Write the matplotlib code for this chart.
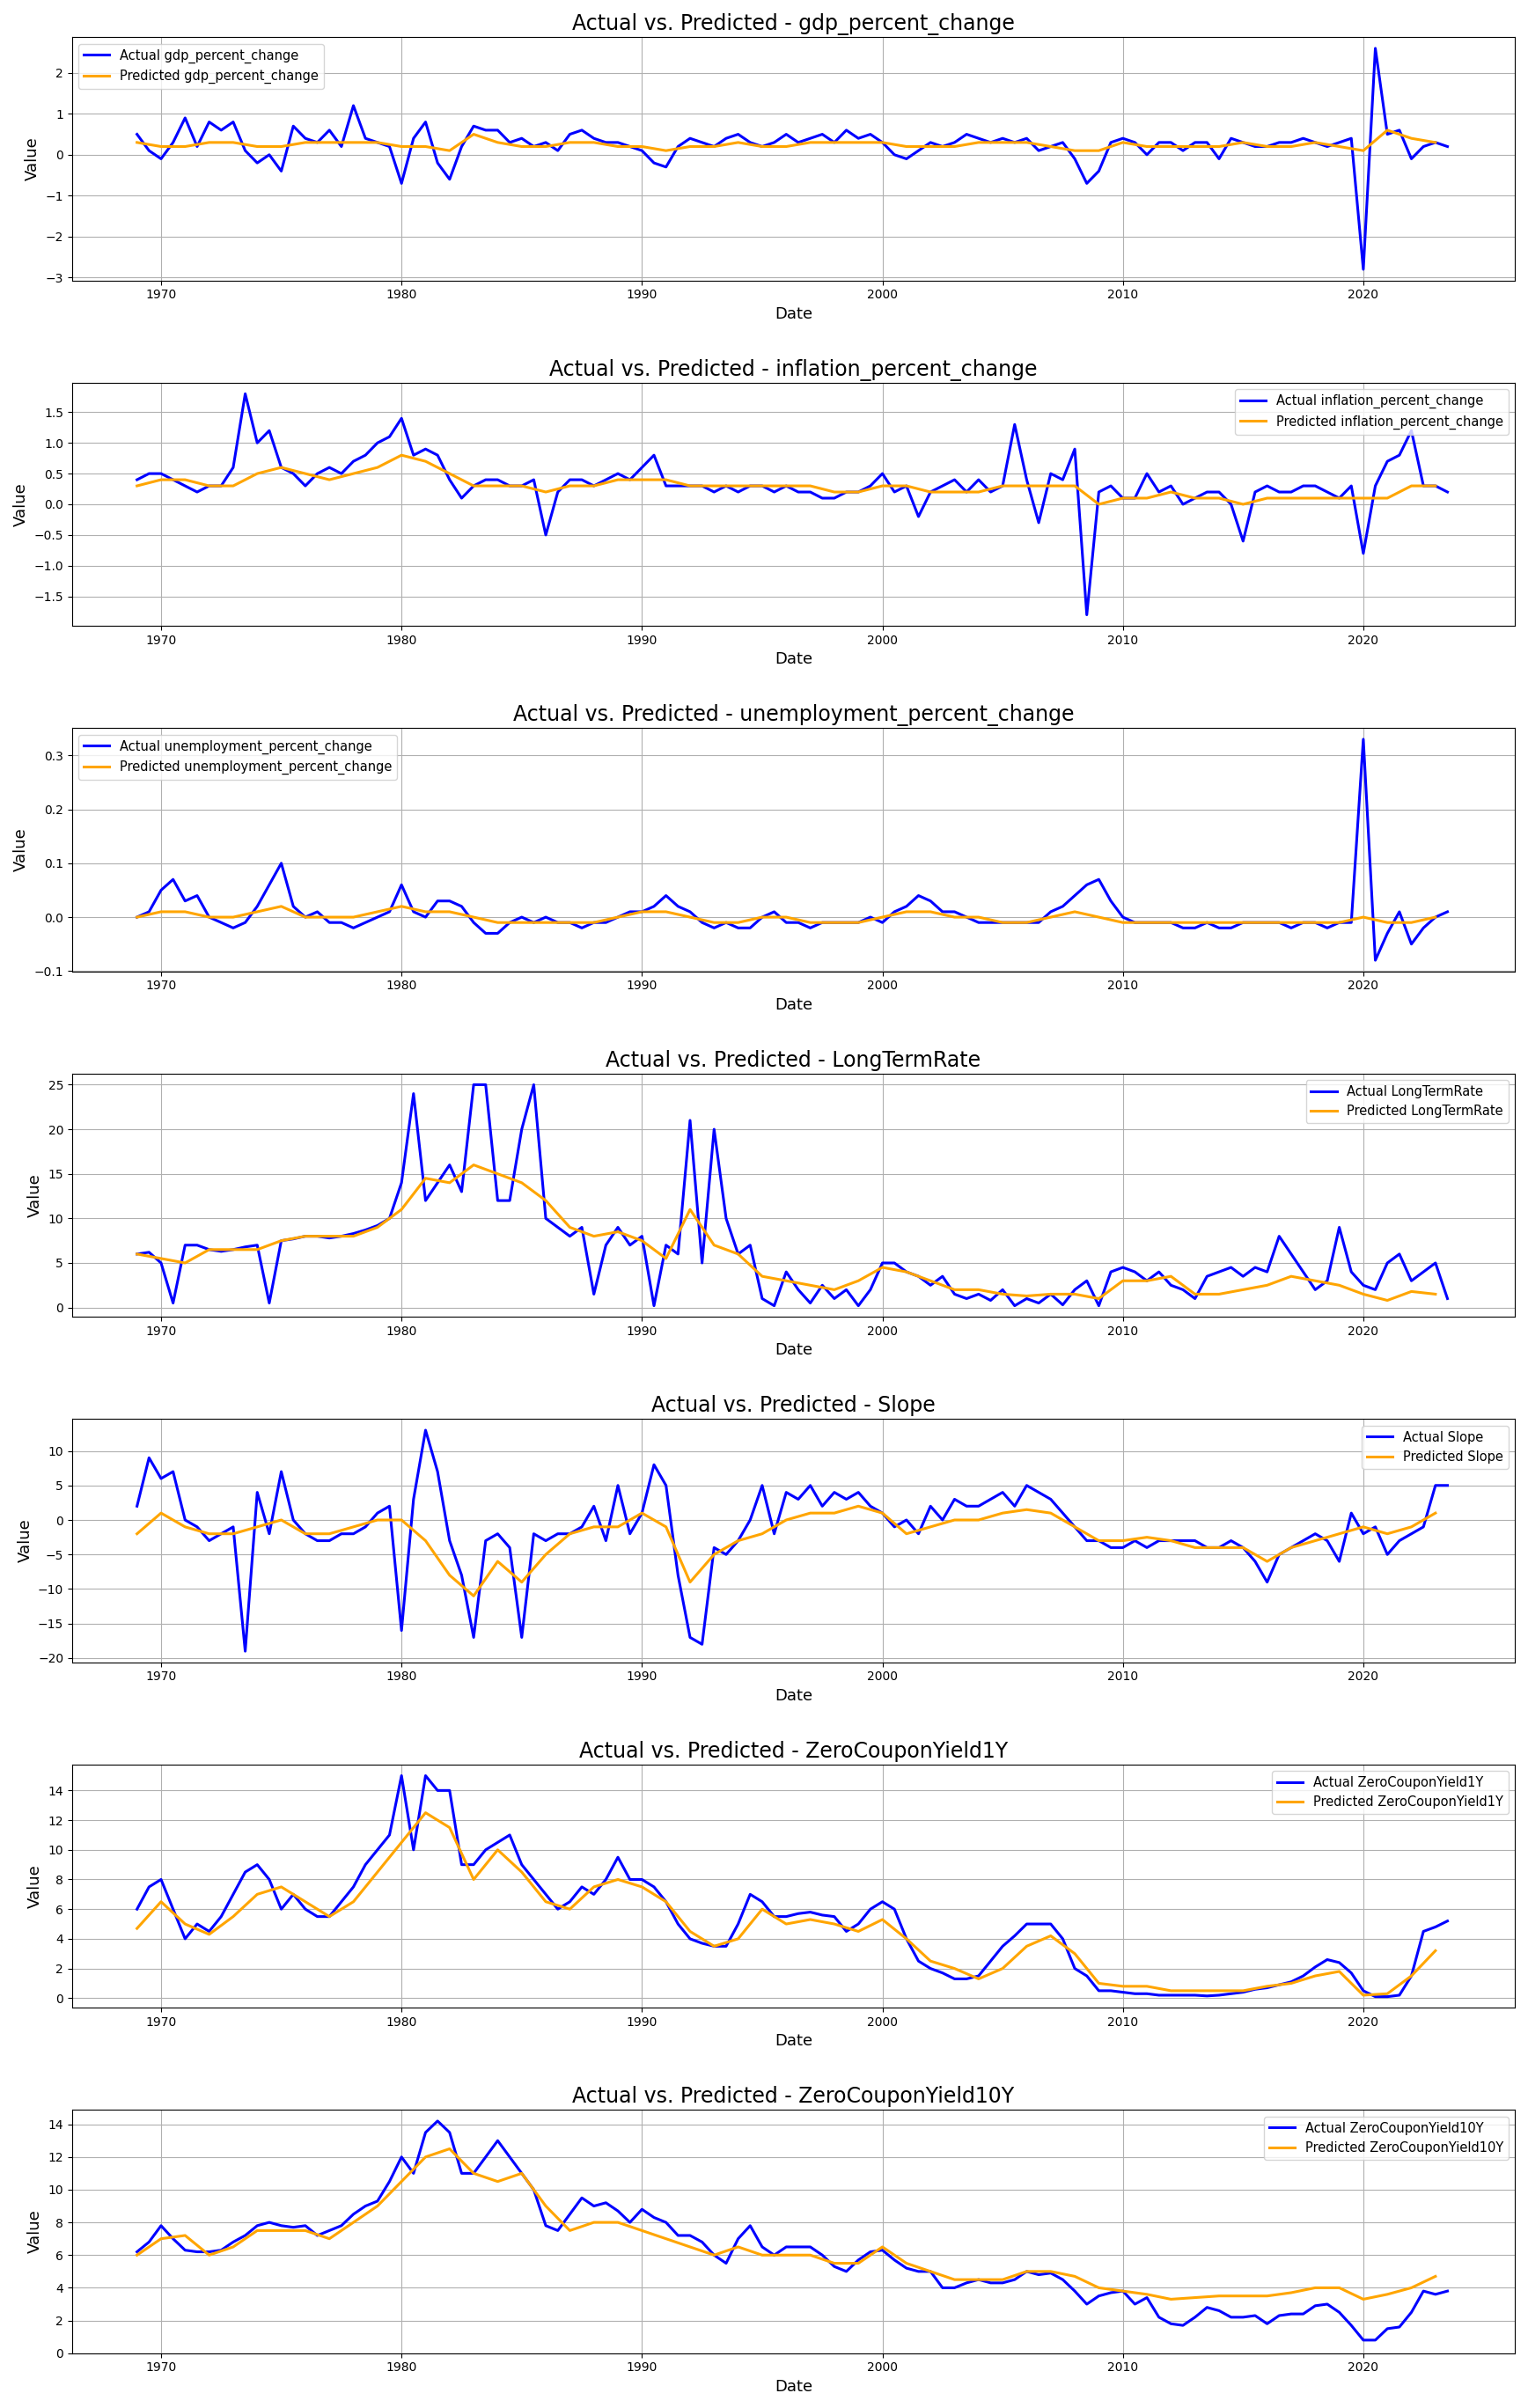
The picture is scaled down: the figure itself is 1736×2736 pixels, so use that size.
import numpy as np
import matplotlib.pyplot as plt

# half-yearly readings of the actual series, yearly readings of the predictions
start_year = 1969

gdp_actual = [0.5, 0.1, -0.1, 0.3, 0.9, 0.2, 0.8, 0.6, 0.8, 0.1, -0.2, 0.0, -0.4, 0.7, 0.4, 0.3,
              0.6, 0.2, 1.2, 0.4, 0.3, 0.2, -0.7, 0.4, 0.8, -0.2, -0.6, 0.2, 0.7, 0.6, 0.6, 0.3,
              0.4, 0.2, 0.3, 0.1, 0.5, 0.6, 0.4, 0.3, 0.3, 0.2, 0.1, -0.2, -0.3, 0.2, 0.4, 0.3,
              0.2, 0.4, 0.5, 0.3, 0.2, 0.3, 0.5, 0.3, 0.4, 0.5, 0.3, 0.6, 0.4, 0.5, 0.3, 0.0,
              -0.1, 0.1, 0.3, 0.2, 0.3, 0.5, 0.4, 0.3, 0.4, 0.3, 0.4, 0.1, 0.2, 0.3, -0.1, -0.7,
              -0.4, 0.3, 0.4, 0.3, 0.0, 0.3, 0.3, 0.1, 0.3, 0.3, -0.1, 0.4, 0.3, 0.2, 0.2, 0.3,
              0.3, 0.4, 0.3, 0.2, 0.3, 0.4, -2.8, 2.6, 0.5, 0.6, -0.1, 0.2, 0.3, 0.2]
gdp_pred = [0.3, 0.2, 0.2, 0.3, 0.3, 0.2, 0.2, 0.3, 0.3, 0.3, 0.3, 0.2, 0.2, 0.1, 0.5, 0.3,
            0.2, 0.2, 0.3, 0.3, 0.2, 0.2, 0.1, 0.2, 0.2, 0.3, 0.2, 0.2, 0.3, 0.3, 0.3, 0.3,
            0.2, 0.2, 0.2, 0.3, 0.3, 0.3, 0.2, 0.1, 0.1, 0.3, 0.2, 0.2, 0.2, 0.2, 0.3, 0.2,
            0.2, 0.3, 0.2, 0.1, 0.6, 0.4, 0.3]

infl_actual = [0.4, 0.5, 0.5, 0.4, 0.3, 0.2, 0.3, 0.3, 0.6, 1.8, 1.0, 1.2, 0.6, 0.5, 0.3, 0.5,
               0.6, 0.5, 0.7, 0.8, 1.0, 1.1, 1.4, 0.8, 0.9, 0.8, 0.4, 0.1, 0.3, 0.4, 0.4, 0.3,
               0.3, 0.4, -0.5, 0.2, 0.4, 0.4, 0.3, 0.4, 0.5, 0.4, 0.6, 0.8, 0.3, 0.3, 0.3, 0.3,
               0.2, 0.3, 0.2, 0.3, 0.3, 0.2, 0.3, 0.2, 0.2, 0.1, 0.1, 0.2, 0.2, 0.3, 0.5, 0.2,
               0.3, -0.2, 0.2, 0.3, 0.4, 0.2, 0.4, 0.2, 0.3, 1.3, 0.4, -0.3, 0.5, 0.4, 0.9, -1.8,
               0.2, 0.3, 0.1, 0.1, 0.5, 0.2, 0.3, 0.0, 0.1, 0.2, 0.2, 0.0, -0.6, 0.2, 0.3, 0.2,
               0.2, 0.3, 0.3, 0.2, 0.1, 0.3, -0.8, 0.3, 0.7, 0.8, 1.2, 0.3, 0.3, 0.2]
infl_pred = [0.3, 0.4, 0.4, 0.3, 0.3, 0.5, 0.6, 0.5, 0.4, 0.5, 0.6, 0.8, 0.7, 0.5, 0.3, 0.3,
             0.3, 0.2, 0.3, 0.3, 0.4, 0.4, 0.4, 0.3, 0.3, 0.3, 0.3, 0.3, 0.3, 0.2, 0.2, 0.3,
             0.3, 0.2, 0.2, 0.2, 0.3, 0.3, 0.3, 0.3, 0.0, 0.1, 0.1, 0.2, 0.1, 0.1, 0.0, 0.1,
             0.1, 0.1, 0.1, 0.1, 0.1, 0.3, 0.3]

unemp_actual = [0.0, 0.01, 0.05, 0.07, 0.03, 0.04, 0.0, -0.01, -0.02, -0.01, 0.02, 0.06, 0.10, 0.02,
                0.0, 0.01, -0.01, -0.01, -0.02, -0.01, 0.0, 0.01, 0.06, 0.01, 0.0, 0.03, 0.03, 0.02,
                -0.01, -0.03, -0.03, -0.01, 0.0, -0.01, 0.0, -0.01, -0.01, -0.02, -0.01, -0.01, 0.0, 0.01,
                0.01, 0.02, 0.04, 0.02, 0.01, -0.01, -0.02, -0.01, -0.02, -0.02, 0.0, 0.01, -0.01, -0.01,
                -0.02, -0.01, -0.01, -0.01, -0.01, 0.0, -0.01, 0.01, 0.02, 0.04, 0.03, 0.01, 0.01, 0.0,
                -0.01, -0.01, -0.01, -0.01, -0.01, -0.01, 0.01, 0.02, 0.04, 0.06, 0.07, 0.03, 0.0, -0.01,
                -0.01, -0.01, -0.01, -0.02, -0.02, -0.01, -0.02, -0.02, -0.01, -0.01, -0.01, -0.01, -0.02, -0.01,
                -0.01, -0.02, -0.01, -0.01, 0.33, -0.08, -0.03, 0.01, -0.05, -0.02, 0.0, 0.01]
unemp_pred = [0.0, 0.01, 0.01, 0.0, 0.0, 0.01, 0.02, 0.0, 0.0, 0.0, 0.01, 0.02, 0.01, 0.01, 0.0,
              -0.01, -0.01, -0.01, -0.01, -0.01, 0.0, 0.01, 0.01, 0.0, -0.01, -0.01, 0.0, 0.0, -0.01,
              -0.01, -0.01, 0.0, 0.01, 0.01, 0.0, 0.0, -0.01, -0.01, 0.0, 0.01, 0.0, -0.01, -0.01,
              -0.01, -0.01, -0.01, -0.01, -0.01, -0.01, -0.01, -0.01, 0.0, -0.01, -0.01, 0.0]

ltr_actual = [6, 6.2, 5, 0.5, 7, 7, 6.5, 6.3, 6.5, 6.8, 7, 0.5, 7.5, 7.7, 8, 8, 7.8, 8, 8.3, 8.7,
              9.2, 10, 14, 24, 12, 14, 16, 13, 25, 25, 12, 12, 20, 25, 10, 9, 8, 9, 1.5, 7,
              9, 7, 8, 0.2, 7, 6, 21, 5, 20, 10, 6, 7, 1, 0.2, 4, 2, 0.5, 2.5, 1, 2,
              0.2, 2, 5, 5, 4, 3.5, 2.5, 3.5, 1.5, 1.0, 1.5, 0.8, 2, 0.2, 1, 0.5, 1.5, 0.3, 2, 3,
              0.2, 4, 4.5, 4, 3, 4, 2.5, 2, 1, 3.5, 4, 4.5, 3.5, 4.5, 4, 8, 6, 4, 2, 3,
              9, 4, 2.5, 2, 5, 6, 3, 4, 5, 1]
ltr_pred = [6, 5.5, 5, 6.5, 6.5, 6.5, 7.5, 8, 8, 8, 9, 11, 14.5, 14, 16, 15, 14, 12, 9, 8, 8.5,
            7.5, 5.5, 11, 7, 6, 3.5, 3, 2.5, 2, 3, 4.5, 4, 3, 2, 2, 1.5, 1.3, 1.5, 1.5, 1, 3,
            3, 3.5, 1.5, 1.5, 2, 2.5, 3.5, 3, 2.5, 1.5, 0.8, 1.8, 1.5]

slope_actual = [2, 9, 6, 7, 0, -1, -3, -2, -1, -19, 4, -2, 7, 0, -2, -3, -3, -2, -2, -1,
                1, 2, -16, 3, 13, 7, -3, -8, -17, -3, -2, -4, -17, -2, -3, -2, -2, -1, 2, -3,
                5, -2, 1, 8, 5, -8, -17, -18, -4, -5, -3, 0, 5, -2, 4, 3, 5, 2, 4, 3,
                4, 2, 1, -1, 0, -2, 2, 0, 3, 2, 2, 3, 4, 2, 5, 4, 3, 1, -1, -3,
                -3, -4, -4, -3, -4, -3, -3, -3, -3, -4, -4, -3, -4, -6, -9, -5, -4, -3, -2, -3,
                -6, 1, -2, -1, -5, -3, -2, -1, 5, 5]
slope_pred = [-2, 1, -1, -2, -2, -1, 0, -2, -2, -1, 0, 0, -3, -8, -11, -6, -9, -5, -2, -1, -1,
              1, -1, -9, -5, -3, -2, 0, 1, 1, 2, 1, -2, -1, 0, 0, 1, 1.5, 1, -1, -3, -3,
              -2.5, -3, -4, -4, -4, -6, -4, -3, -2, -1, -2, -1, 1]

y1_actual = [6, 7.5, 8, 6, 4, 5, 4.5, 5.5, 7, 8.5, 9, 8, 6, 7, 6, 5.5, 5.5, 6.5, 7.5, 9,
             10, 11, 15, 10, 15, 14, 14, 9, 9, 10, 10.5, 11, 9, 8, 7, 6, 6.5, 7.5, 7, 8,
             9.5, 8, 8, 7.5, 6.5, 5, 4, 3.7, 3.5, 3.5, 5, 7, 6.5, 5.5, 5.5, 5.7, 5.8, 5.6, 5.5, 4.5,
             5, 6, 6.5, 6, 4, 2.5, 2, 1.7, 1.3, 1.3, 1.5, 2.5, 3.5, 4.2, 5, 5, 5, 4, 2, 1.5,
             0.5, 0.5, 0.4, 0.3, 0.3, 0.2, 0.2, 0.2, 0.2, 0.15, 0.2, 0.3, 0.4, 0.6, 0.7, 0.9, 1.1, 1.5, 2.1, 2.6,
             2.4, 1.7, 0.5, 0.1, 0.1, 0.2, 1.5, 4.5, 4.8, 5.2]
y1_pred = [4.7, 6.5, 5, 4.3, 5.5, 7, 7.5, 6.5, 5.5, 6.5, 8.5, 10.5, 12.5, 11.5, 8, 10, 8.5, 6.5,
           6, 7.5, 8, 7.5, 6.5, 4.5, 3.5, 4, 6, 5, 5.3, 5, 4.5, 5.3, 4, 2.5, 2, 1.3, 2, 3.5,
           4.2, 3, 1, 0.8, 0.8, 0.5, 0.5, 0.5, 0.5, 0.8, 1.0, 1.5, 1.8, 0.2, 0.3, 1.5, 3.2]

y10_actual = [6.2, 6.8, 7.8, 7, 6.3, 6.2, 6.2, 6.3, 6.8, 7.2, 7.8, 8, 7.8, 7.7, 7.8, 7.2, 7.5, 7.8,
              8.5, 9, 9.3, 10.5, 12, 11, 13.5, 14.2, 13.5, 11, 11, 12, 13, 12, 11, 10, 7.8, 7.5,
              8.5, 9.5, 9, 9.2, 8.7, 8, 8.8, 8.3, 8, 7.2, 7.2, 6.8, 6, 5.5, 7, 7.8, 6.5, 6,
              6.5, 6.5, 6.5, 6, 5.3, 5, 5.7, 6.2, 6.3, 5.7, 5.2, 5, 5, 4, 4, 4.3, 4.5, 4.3,
              4.3, 4.5, 5, 4.8, 4.9, 4.5, 3.8, 3, 3.5, 3.7, 3.8, 3, 3.4, 2.2, 1.8, 1.7, 2.2, 2.8,
              2.6, 2.2, 2.2, 2.3, 1.8, 2.3, 2.4, 2.4, 2.9, 3.0, 2.5, 1.7, 0.8, 0.8, 1.5, 1.6,
              2.5, 3.8, 3.6, 3.8]
y10_pred = [6.0, 7, 7.2, 6, 6.5, 7.5, 7.5, 7.5, 7, 8, 9, 10.5, 12, 12.5, 11, 10.5, 11, 9, 7.5,
            8, 8, 7.5, 7, 6.5, 6, 6.5, 6, 6, 6, 5.5, 5.5, 6.5, 5.5, 5, 4.5, 4.5, 4.5, 5, 5,
            4.7, 4, 3.8, 3.6, 3.3, 3.4, 3.5, 3.5, 3.5, 3.7, 4, 4, 3.3, 3.6, 4, 4.7]

series = [
    ("gdp_percent_change", gdp_actual, gdp_pred, "upper left"),
    ("inflation_percent_change", infl_actual, infl_pred, "upper right"),
    ("unemployment_percent_change", unemp_actual, unemp_pred, "upper left"),
    ("LongTermRate", ltr_actual, ltr_pred, "upper right"),
    ("Slope", slope_actual, slope_pred, "upper right"),
    ("ZeroCouponYield1Y", y1_actual, y1_pred, "upper right"),
    ("ZeroCouponYield10Y", y10_actual, y10_pred, "upper right"),
]

fig, axes = plt.subplots(7, 1, figsize=(17.36, 27.36))
for ax, (name, actual, pred, loc) in zip(axes, series):
    t_act = start_year + np.arange(len(actual)) / 2
    t_pred = start_year + np.arange(len(pred))
    ax.plot(t_act, actual, color="blue", lw=2.2, label=f"Actual {name}")
    ax.plot(t_pred, pred, color="orange", lw=2.2, label=f"Predicted {name}")
    ax.set_title(f"Actual vs. Predicted - {name}", fontsize=17)
    ax.set_xlabel("Date", fontsize=13)
    ax.set_ylabel("Value", fontsize=13)
    ax.set_xlim(1966.3, 2026.3)
    ax.set_xticks([1970, 1980, 1990, 2000, 2010, 2020])
    ax.grid(True)
    ax.legend(loc=loc, fontsize=10.5)
axes[-1].set_ylim(bottom=0)

plt.tight_layout(h_pad=3)
plt.savefig("out.png", dpi=100)
